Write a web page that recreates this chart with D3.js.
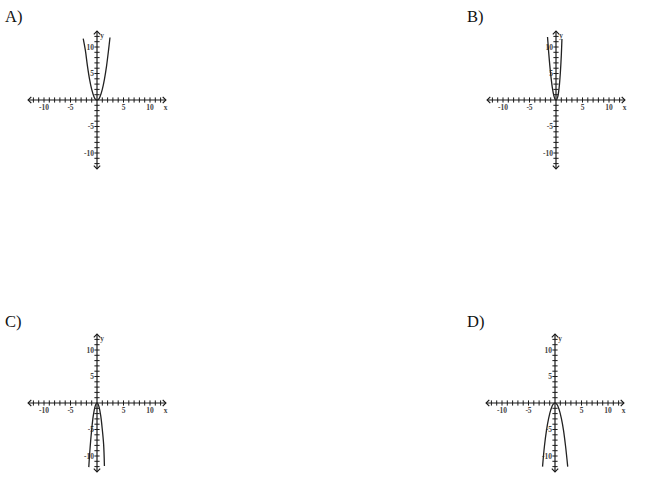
<!DOCTYPE html>
<html>
<head>
<meta charset="utf-8">
<script src="https://cdn.jsdelivr.net/npm/d3@7"></script>
<style>
html,body{margin:0;padding:0;background:#fff;}
svg{display:block;}
</style>
</head>
<body>
<svg id="chart" width="650" height="481"></svg>
<script>
// ---- data ----
const panelLabels = ["A)", "B)", "C)", "D)"];
const xTickLabels = [-10, -5, 5, 10];
const yTickLabels = [10, 5, -5, -10];
const tickValues = [-12,-11,-10,-9,-8,-7,-6,-5,-4,-3,-2,-1,1,2,3,4,5,6,7,8,9,10,11,12];
const curveA = [[-2.6,11.6],[-2.2,9.4],[-1.8,6.4],[-1.4,3.9],[-1,2],[-0.6,0.7],[-0.3,0.15],[0,0],[0.3,0.15],[0.6,0.7],[1,2],[1.4,3.9],[1.8,6.4],[2.2,9.6],[2.45,11.8]];
const curveB = [[-1.6,11.9],[-1.35,8.6],[-1.05,5.3],[-0.7,2.4],[-0.4,0.8],[-0.15,0.1],[0.05,0],[0.3,0.5],[0.6,2.4],[0.85,5.6],[1.0,8.4],[1.12,11.5]];
const curveC = [[-1.55,-12.1],[-1.3,-8.4],[-1.0,-5],[-0.7,-2.4],[-0.4,-0.8],[-0.15,-0.1],[0,0],[0.15,-0.1],[0.4,-0.8],[0.7,-2.4],[1.0,-5],[1.25,-7.8],[1.4,-11.9]];
const curveD = [[-2.35,-12],[-2.0,-8.2],[-1.6,-5.1],[-1.2,-2.9],[-0.8,-1.3],[-0.4,-0.3],[0,0],[0.4,-0.3],[0.8,-1.3],[1.2,-2.9],[1.6,-5.1],[2.0,-8.2],[2.4,-12]];
const curves = [curveA, curveB, curveC, curveD];

// ---- layout ----
const origins = [[97,100],[556,100],[97,403],[555,403]];
const labelPos = [[5,22],[467,22],[5,327],[467,327]];
const unit = 5.3, ext = 13;
const ink = "#1a1a1a";

const svg = d3.select("#chart");

panelLabels.forEach((lab, i) => {
  const [ox, oy] = origins[i];
  const x = d3.scaleLinear().domain([-ext, ext]).range([ox - ext*unit, ox + ext*unit]);
  const y = d3.scaleLinear().domain([-ext, ext]).range([oy + ext*unit, oy - ext*unit]);
  const g = svg.append("g");

  g.append("text").attr("x", labelPos[i][0]).attr("y", labelPos[i][1])
    .attr("font-family", "Liberation Serif, Times New Roman, serif")
    .attr("font-size", 16.5).attr("fill", "#111").text(lab);

  // axes
  g.append("line").attr("x1", x(-ext)).attr("x2", x(ext)).attr("y1", y(0)).attr("y2", y(0))
    .attr("stroke", ink).attr("stroke-width", 1.2);
  g.append("line").attr("x1", x(0)).attr("x2", x(0)).attr("y1", y(-ext)).attr("y2", y(ext))
    .attr("stroke", ink).attr("stroke-width", 1.2);

  // arrowheads
  const a = 3.2;
  const arrows = [
    `M${x(-ext)+a},${y(0)-a}L${x(-ext)},${y(0)}L${x(-ext)+a},${y(0)+a}`,
    `M${x(ext)-a},${y(0)-a}L${x(ext)},${y(0)}L${x(ext)-a},${y(0)+a}`,
    `M${x(0)-a},${y(ext)+a}L${x(0)},${y(ext)}L${x(0)+a},${y(ext)+a}`,
    `M${x(0)-a},${y(-ext)-a}L${x(0)},${y(-ext)}L${x(0)+a},${y(-ext)-a}`
  ];
  arrows.forEach(d => g.append("path").attr("d", d).attr("fill", "none")
    .attr("stroke", ink).attr("stroke-width", 1.2));

  // ticks
  g.selectAll(".xt").data(tickValues).enter().append("line")
    .attr("x1", d => x(d)).attr("x2", d => x(d))
    .attr("y1", y(0) - 2.6).attr("y2", y(0) + 2.6)
    .attr("stroke", ink).attr("stroke-width", 1);
  g.selectAll(".yt").data(tickValues).enter().append("line")
    .attr("y1", d => y(d)).attr("y2", d => y(d))
    .attr("x1", x(0) - 2.6).attr("x2", x(0) + 2.6)
    .attr("stroke", ink).attr("stroke-width", 1);

  const tf = "Liberation Serif, Times New Roman, serif";
  g.selectAll(".xl").data(xTickLabels).enter().append("text")
    .attr("x", d => x(d)).attr("y", y(0) + 10)
    .attr("text-anchor", "middle").attr("font-family", tf).attr("font-size", 7.5)
    .attr("font-weight", "bold").attr("fill", "#444").text(d => d < 0 ? "-" + Math.abs(d) : d);
  g.selectAll(".yl").data(yTickLabels).enter().append("text")
    .attr("x", x(0) - 3).attr("y", d => y(d) + 2.5)
    .attr("text-anchor", "end").attr("font-family", tf).attr("font-size", 7.5)
    .attr("font-weight", "bold").attr("fill", "#444").text(d => d < 0 ? "-" + Math.abs(d) : d);
  g.append("text").attr("x", x(12.6)).attr("y", y(0) + 9.5)
    .attr("font-family", tf).attr("font-size", 7.5).attr("font-weight", "bold")
    .attr("fill", "#444").text("x");
  g.append("text").attr("x", x(0.6)).attr("y", y(11.7))
    .attr("font-family", tf).attr("font-size", 7.5).attr("font-weight", "bold")
    .attr("fill", "#444").text("y");

  // curve
  const line = d3.line().x(d => x(d[0])).y(d => y(d[1])).curve(d3.curveCatmullRom);
  g.append("path").datum(curves[i]).attr("d", line).attr("fill", "none")
    .attr("stroke", "#222").attr("stroke-width", 1.3);
});
</script>
</body>
</html>
